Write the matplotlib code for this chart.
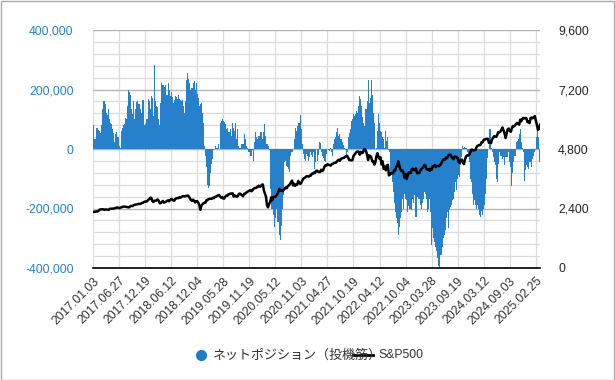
import matplotlib
matplotlib.use("Agg")
import matplotlib.pyplot as plt
from matplotlib.lines import Line2D
from matplotlib.patches import Rectangle
import numpy as np

# weekly data, 2017-01-03 .. 2025-03-25
tick_labels = ["2017.01.03", "2017.06.27", "2017.12.19", "2018.06.12", "2018.12.04",
               "2019.05.28", "2019.11.19", "2020.05.12", "2020.11.03", "2021.04.27",
               "2021.10.19", "2022.04.12", "2022.10.04", "2023.03.28", "2023.09.19",
               "2024.03.12", "2024.09.03", "2025.02.25"]

# net position of speculators, thousands of contracts
net_position_k = [
    80, 35, 33, 69, 69, 65, 62, 55, 80, 135, 160, 160, 150, 122, 115, 133, 100, 89, 83, 67,
    55, 22, 50, 56, 40, 9, 5, 60, 72, 80, 85, 105, 100, 144, 197, 190, 183, 133, 117, 161,
    100, 133, 158, 161, 150, 150, 135, 122, 166, 80, 85, 102, 100, 169, 160, 135, 178, 172, 111, 283,
    160, 145, 140, 100, 80, 155, 222, 215, 215, 210, 215, 180, 222, 200, 178, 190, 175, 155, 165, 178,
    175, 169, 180, 169, 165, 161, 165, 144, 122, 160, 233, 255, 235, 222, 200, 205, 222, 230, 200, 222,
    185, 172, 144, 150, 155, 120, 89, 10, -22, -60, -122, -130, -125, -80, -50, -33, -5, 0, 11, 5,
    17, 0, 89, 95, 100, 94, 90, 83, 67, 70, 56, 56, 67, 45, 89, 72, 60, 87, 33, 67,
    11, 5, 5, 17, 17, 50, 33, 10, 5, -11, -11, -22, -22, -5, -39, 22, 58, 40, 33, 44,
    44, 56, 56, 33, 58, 83, 45, 17, 10, -5, -133, -200, -200, -222, -261, -233, -200, -244, -244, -289,
    -305, -260, -200, -155, -44, -39, -56, -60, -67, -78, -22, -10, 0, 33, 72, 61, 78, 89, 89, 113,
    67, 17, -17, -33, -39, -17, -22, -39, -28, -11, -20, -28, -11, -67, -44, -40, -20, 22, 20, -11,
    -22, -30, -39, -44, -17, 0, -5, -8, 3, -10, -22, 17, 33, 40, 56, 72, 44, 50, 33, 22,
    15, 2, -5, -22, -11, 39, 55, 67, 94, 100, 117, 111, 117, 128, 120, 144, 178, 167, 144, 106,
    89, 78, 133, 160, 233, 156, 170, 233, 180, 122, 89, 0, 2, 61, 117, 89, 61, 56, 40, 33,
    5, 61, 28, 40, -5, -10, -89, -110, -144, -180, -211, -233, -250, -289, -261, -233, -211, -167, -200, -150,
    -167, -170, -211, -190, -200, -200, -205, -167, -180, -156, -228, -161, -167, -167, -189, -200, -180, -167, -144, -150,
    -167, -211, -200, -167, -211, -322, -267, -300, -311, -330, -344, -367, -394, -400, -356, -330, -300, -290, -272, -233,
    -211, -267, -206, -195, -189, -170, -167, -144, -111, -139, -100, -89, -94, -55, -28, 11, 5, 8, 5, -10,
    -28, -44, -100, -111, -150, -189, -170, -189, -200, -189, -200, -222, -228, -210, -222, -200, -189, -150, -100, -30,
    0, 67, 5, -10, -28, -44, -55, -100, -110, -50, -11, -22, -22, -33, -28, -55, -28, -28, -28, -10,
    -44, -60, -123, -80, -44, -22, 22, 28, 33, 50, 67, 22, 5, -11, -106, -72, -55, -60, -67, -44,
    -44, -61, -33, -22, -11, -5, 39, 67, 40, -45,
]

sp500 = [
    2258, 2269, 2268, 2281, 2279, 2293, 2338, 2365, 2364, 2369, 2365, 2344, 2359, 2360, 2353, 2342, 2388, 2391, 2397, 2400,
    2398, 2412, 2429, 2440, 2437, 2419, 2429, 2443, 2460, 2477, 2476, 2474, 2464, 2452, 2446, 2457, 2498, 2506, 2496, 2534,
    2550, 2559, 2569, 2575, 2591, 2579, 2599, 2627, 2629, 2664, 2681, 2681, 2695, 2751, 2776, 2839, 2822, 2695, 2662, 2716,
    2714, 2728, 2765, 2717, 2612, 2614, 2656, 2707, 2634, 2655, 2672, 2711, 2725, 2690, 2749, 2786, 2762, 2723, 2713, 2793,
    2809, 2820, 2816, 2858, 2839, 2862, 2897, 2896, 2887, 2904, 2916, 2924, 2881, 2809, 2740, 2711, 2755, 2722, 2641, 2682,
    2700, 2637, 2546, 2351, 2506, 2574, 2610, 2633, 2640, 2737, 2744, 2780, 2793, 2789, 2791, 2832, 2818, 2867, 2878, 2907,
    2933, 2946, 2884, 2834, 2864, 2802, 2803, 2885, 2917, 2917, 2973, 2979, 3004, 3005, 3013, 2881, 2926, 2900, 2869, 2906,
    2979, 3005, 2966, 2940, 2893, 2995, 2996, 3036, 3074, 3091, 3120, 3140, 3093, 3132, 3192, 3223, 3231, 3238, 3283, 3321,
    3276, 3298, 3358, 3370, 3128, 3003, 2882, 2529, 2447, 2585, 2659, 2846, 2737, 2863, 2868, 2870, 2923, 2992, 3081, 3190,
    3125, 3131, 3100, 3145, 3197, 3257, 3218, 3306, 3333, 3390, 3443, 3526, 3332, 3401, 3315, 3363, 3361, 3512, 3443, 3391,
    3443, 3545, 3610, 3635, 3662, 3702, 3695, 3687, 3727, 3726, 3801, 3799, 3849, 3826, 3911, 3933, 3881, 3870, 3875, 3962,
    3910, 3959, 4074, 4141, 4134, 4187, 4165, 4152, 4127, 4188, 4202, 4227, 4246, 4246, 4291, 4343, 4369, 4323, 4401, 4423,
    4436, 4448, 4486, 4522, 4520, 4443, 4354, 4352, 4345, 4350, 4519, 4574, 4631, 4685, 4700, 4690, 4567, 4686, 4634, 4649,
    4786, 4793, 4713, 4577, 4357, 4546, 4521, 4471, 4305, 4306, 4170, 4262, 4512, 4632, 4481, 4397, 4463, 4175, 4300, 4001,
    4088, 3941, 4132, 4161, 3735, 3765, 3822, 3831, 3819, 3937, 3921, 4091, 4122, 4305, 4128, 3986, 3908, 3932, 3855, 3647,
    3791, 3589, 3720, 3859, 3856, 3828, 3992, 4003, 3958, 3941, 4020, 3822, 3829, 3825, 3919, 3991, 4017, 4077, 4164, 4136,
    3997, 3970, 3986, 3920, 4002, 3971, 4100, 4109, 4154, 4071, 4119, 4119, 4109, 4145, 4205, 4283, 4369, 4388, 4378, 4455,
    4439, 4555, 4567, 4576, 4499, 4437, 4387, 4497, 4496, 4461, 4443, 4273, 4229, 4358, 4373, 4247, 4194, 4378, 4496, 4538,
    4554, 4567, 4644, 4768, 4774, 4743, 4756, 4766, 4868, 4924, 4954, 4953, 4975, 5078, 5079, 5175, 5178, 5204, 5205, 5209,
    5051, 5071, 5036, 5187, 5247, 5321, 5306, 5291, 5375, 5487, 5469, 5509, 5577, 5667, 5555, 5436, 5240, 5434, 5597, 5625,
    5529, 5496, 5634, 5732, 5709, 5751, 5815, 5851, 5832, 5782, 5984, 5917, 6021, 6049, 6034, 6051, 6040, 5882, 5909, 5843,
    6049, 6068, 6038, 6069, 6129, 5956, 5779, 5573, 5615, 5777,
]

plt.rcParams["font.family"] = ["Liberation Sans", "DejaVu Sans"]
W, H = 615, 380
fig = plt.figure(figsize=(W / 100, H / 100), dpi=100)
ax = fig.add_axes([93 / W, 1 - 268 / H, 447 / W, 238 / H])

x = np.arange(len(net_position_k))
ax.bar(x, np.array(net_position_k) * 1000, width=1.0, color="#2680cc", linewidth=0, zorder=2)
ax.set_xlim(0, len(x) - 1)
ax.set_ylim(-400000, 400000)

ax.set_yticks(np.arange(-400000, 400001, 200000))
ax.set_yticklabels([f"{v:,}" for v in range(-400000, 400001, 200000)], color="#2380d2", fontsize=8.8)
ax.set_yticks(np.arange(-400000, 400001, 40000), minor=True)
ax.set_xticks(np.arange(0, len(x), 25))
ax.set_xticklabels(tick_labels, rotation=45, ha="right", rotation_mode="anchor", fontsize=8.8, color="#333333")
ax.tick_params(which="both", length=0)
ax.tick_params(axis="y", pad=14)
ax.tick_params(axis="x", pad=5)
ax.set_axisbelow(True)
ax.grid(which="minor", axis="y", color="#dcdcdc", lw=0.9)
ax.grid(which="major", axis="y", color="#b4b4b4", lw=1.0)
ax.grid(which="major", axis="x", color="#dcdcdc", lw=0.9)
for s in ["top", "left", "right"]:
    ax.spines[s].set_visible(False)
ax.spines["bottom"].set_color("black")
ax.spines["bottom"].set_linewidth(1.2)

ax2 = ax.twinx()
ax2.plot(x, sp500, color="black", lw=1.8, zorder=3)
ax2.set_ylim(0, 9600)
ax2.set_yticks(np.arange(0, 9601, 2400))
ax2.set_yticklabels([f"{v:,}" for v in range(0, 9601, 2400)], fontsize=8.8, color="#222222")
ax2.tick_params(length=0, pad=13)
for s in ax2.spines.values():
    s.set_visible(False)

# legend
ly = 1 - 355 / H
fig.add_artist(Line2D([201 / W], [ly], marker="o", markersize=7, color="#1f7ccc",
                      linestyle="none", transform=fig.transFigure))
fig.text(213 / W, ly, "ネットポジション（投機筋）", fontsize=9.4, color="#333333", va="center",
         family=["Noto Sans CJK JP", "DejaVu Sans"])
fig.add_artist(Line2D([353 / W, 373 / W], [ly, ly], color="black", lw=2, transform=fig.transFigure))
fig.text(378 / W, ly, "S&P500", fontsize=8.8, color="#333333", va="center")

fig.patches.append(Rectangle((0.5 / W, 0.5 / H), 1 - 1.5 / W, 1 - 1.5 / H, transform=fig.transFigure,
                             fill=False, edgecolor="#aaaaaa", lw=1))

fig.savefig("out.png", dpi=100)
